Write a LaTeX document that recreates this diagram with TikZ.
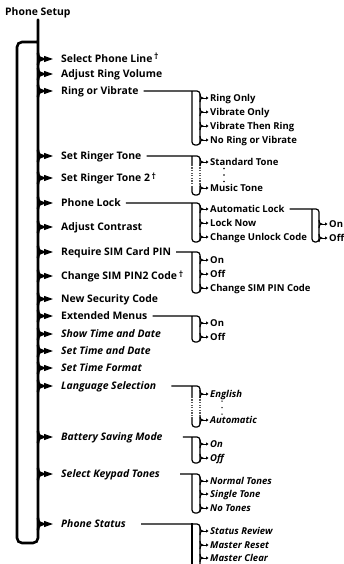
\documentclass[tikz,border=0pt]{standalone}
\usepackage{fontspec}
\setmainfont{Open Sans}
\usepackage{tikz}
\usetikzlibrary{arrows.meta,positioning,calc}

\newcommand{\daggermark}{\,\raisebox{2.6pt}{\fontsize{8.5}{9}\selectfont †}}

\begin{document}
\begin{tikzpicture}[x=1pt, y=-1pt,
  mainitem/.style={anchor=west, inner sep=0pt, text height=7.2pt, text depth=0pt, font=\fontsize{10.4}{12}\selectfont\bfseries},
  mainital/.style={mainitem, font=\fontsize{10.4}{12}\selectfont\bfseries\itshape},
  subitem/.style={anchor=west, inner sep=0pt, text height=6.6pt, text depth=0pt, font=\fontsize{9.5}{11}\selectfont\bfseries},
  subital/.style={subitem, font=\fontsize{9.5}{11}\selectfont\bfseries\itshape},
  mainline/.style={line width=2.6pt, line cap=round},
  subline/.style={line width=1.2pt},
  gapline/.style={line width=1.6pt, white, dash pattern=on 1.3pt off 1.3pt}]
  \useasboundingbox (0,0) rectangle (343,564);

  % x positions of the spines
  \coordinate (mainx) at (38,0);
  \coordinate (loopx) at (17,0);
  \coordinate (subx) at (200,0);
  \coordinate (subl) at (192,0);
  \coordinate (lockx) at (319,0);
  \coordinate (lockl) at (312,0);

  \node[mainitem] (title) at (5,12) {Phone Setup};

  % main menu
  \node[mainitem] (selph) at (61,59) {Select Phone Line\daggermark};
  \node[mainitem] (adjring) at (61,74) {Adjust Ring Volume};
  \node[mainitem] (ringvib) at (61,91) {Ring or Vibrate};
  \node[mainitem] (ringer) at (61,156) {Set Ringer Tone};
  \node[mainitem] (ringer2) at (61,178) {Set Ringer Tone 2\daggermark};
  \node[mainitem] (lock) at (61,203) {Phone Lock};
  \node[mainitem] (contrast) at (61,227) {Adjust Contrast};
  \node[mainitem] (simpin) at (61,252) {Require SIM Card PIN};
  \node[mainitem] (pin2) at (61,276) {Change SIM PIN2 Code\daggermark};
  \node[mainitem] (security) at (61,299) {New Security Code};
  \node[mainitem] (extmenu) at (61,316) {Extended Menus};
  \node[mainital] (showtime) at (61,334) {Show Time and Date};
  \node[mainital] (settime) at (61,351) {Set Time and Date};
  \node[mainital] (timefmt) at (61,368) {Set Time Format};
  \node[mainital] (language) at (61,386) {Language Selection};
  \node[mainital] (battery) at (61,437) {Battery Saving Mode};
  \node[mainital] (keytones) at (61,474) {Select Keypad Tones};
  \node[mainital] (status) at (61,524) {Phone Status};

  % sub menus
  \node[subitem] (ronly) at (210,98) {Ring Only};
  \node[subitem] (vonly) at (210,112) {Vibrate Only};
  \node[subitem] (vthen) at (210,126) {Vibrate Then Ring};
  \node[subitem] (noring) at (210,140) {No Ring or Vibrate};

  \node[subitem] (stdtone) at (210,162) {Standard Tone};
  \coordinate (tonedots) at (224,168.5);
  \node[subitem] (musictone) at (210,188) {Music Tone};

  \node[subitem] (autolock) at (210,209) {Automatic Lock};
  \node[subitem] (locknow) at (210,223) {Lock Now};
  \node[subitem] (unlock) at (210,237) {Change Unlock Code};
  \node[subitem] (lockon) at (329,224) {On};
  \node[subitem] (lockoff) at (329,238) {Off};

  \node[subitem] (simon) at (210,260) {On};
  \node[subitem] (simoff) at (210,274) {Off};
  \node[subitem] (simchange) at (210,288) {Change SIM PIN Code};

  \node[subitem] (exton) at (210,323) {On};
  \node[subitem] (extoff) at (210,337) {Off};

  \node[subital] (english) at (210,394) {English};
  \coordinate (langdots) at (222,401);
  \node[subital] (automatic) at (210,420) {Automatic};

  \node[subital] (baton) at (210,444) {On};
  \node[subital] (batoff) at (210,458) {Off};

  \node[subital] (normaltones) at (210,481) {Normal Tones};
  \node[subital] (singletone) at (210,494) {Single Tone};
  \node[subital] (notones) at (210,508) {No Tones};

  \node[subital] (streview) at (210,531) {Status Review};
  \node[subital] (mreset) at (210,545) {Master Reset};
  \node[subital] (mclear) at (210,558) {Master Clear};

  % vertical dots between first and last tone / language
  \foreach \d in {0,6.5,13} {
    \fill (tonedots) ++(0,\d) circle (0.95pt);
    \fill (langdots) ++(0,\d) circle (0.75pt);
  }

  % main spine and loop
  \draw[mainline, rounded corners=5pt] ($(title.south -| mainx)+(0,4)$) -- ($(status.west -| mainx)+(0,19)$)
    -- ($(status.west -| loopx)+(0,19)$) -- ($(selph.west -| loopx)+(0,-17)$) -- ($(selph.west -| mainx)+(0,-17)$);
  \foreach \m in {selph,adjring,ringvib,ringer,ringer2,lock,contrast,simpin,pin2,security,
                  extmenu,showtime,settime,timefmt,language,battery,keytones,status} {
    \draw[mainline] ($(\m.west -| mainx)+(0,-6)$) .. controls +(0,4) and +(-3,0) .. ($(\m.west -| mainx)+(5,0)$)
      .. controls +(-3,0) and +(0,-4) .. ($(\m.west -| mainx)+(0,6)$);
    \draw[line width=1pt, -{Triangle[length=9pt,width=6pt]}] ($(\m.west -| mainx)+(4,0)$) -- ([xshift=-8pt]\m.west);
  }

  % brackets of the sub menus
  \draw[subline, rounded corners=3pt] ([xshift=5pt]ringvib.east) -- (ringvib.east -| subx)
    -- ($(noring.west -| subx)+(0,5)$) -- ($(noring.west -| subl)+(0,5)$) -- (ringvib.east -| subl);
  \draw[subline, rounded corners=3pt] ([xshift=5pt]ringer.east) -- (ringer.east -| subx)
    -- ($(musictone.west -| subx)+(0,7)$) -- ($(musictone.west -| subl)+(0,7)$) -- (ringer.east -| subl);
  \draw[gapline] ($(ringer.east -| subx)+(0,10)$) -- ($(musictone.west -| subx)+(0,-2)$);
  \draw[gapline] ($(ringer.east -| subl)+(0,10)$) -- ($(musictone.west -| subl)+(0,-2)$);
  \draw[subline, rounded corners=3pt] ([xshift=5pt]lock.east) -- (lock.east -| subx)
    -- ($(unlock.west -| subx)+(0,5)$) -- ($(unlock.west -| subl)+(0,5)$) -- (lock.east -| subl);
  \draw[subline, rounded corners=3pt] ([xshift=5pt]autolock.east) -- (autolock.east -| lockx)
    -- ($(lockoff.west -| lockx)+(0,4)$) -- ($(lockoff.west -| lockl)+(0,4)$) -- (autolock.east -| lockl);
  \draw[subline, rounded corners=3pt] ([xshift=5pt]simpin.east) -- (simpin.east -| subx)
    -- ($(simchange.west -| subx)+(0,5)$) -- ($(simchange.west -| subl)+(0,5)$) -- (simpin.east -| subl);
  \draw[subline, rounded corners=3pt] ([xshift=5pt]extmenu.east) -- (extmenu.east -| subx)
    -- ($(extoff.west -| subx)+(0,5)$) -- ($(extoff.west -| subl)+(0,5)$) -- (extmenu.east -| subl);
  \draw[subline, rounded corners=3pt] ([xshift=15pt]language.east) -- (language.east -| subx)
    -- ($(automatic.west -| subx)+(0,7)$) -- ($(automatic.west -| subl)+(0,7)$) -- (language.east -| subl);
  \draw[gapline] ($(language.east -| subx)+(0,12)$) -- ($(automatic.west -| subx)+(0,-3)$);
  \draw[gapline] ($(language.east -| subl)+(0,12)$) -- ($(automatic.west -| subl)+(0,-3)$);
  \draw[subline, rounded corners=3pt] ([xshift=20pt]battery.east) -- (battery.east -| subx)
    -- ($(batoff.west -| subx)+(0,5)$) -- ($(batoff.west -| subl)+(0,5)$) -- (battery.east -| subl);
  \draw[subline, rounded corners=3pt] ([xshift=20pt]keytones.east) -- (keytones.east -| subx)
    -- ($(notones.west -| subx)+(0,5)$) -- ($(notones.west -| subl)+(0,5)$) -- (keytones.east -| subl);
  \draw[subline, rounded corners=3pt] ([xshift=15pt]status.east) -- (status.east -| subx)
    -- ($(mclear.west -| subx)+(0,12)$);
  \draw[subline] ($(mclear.west -| subl)+(0,12)$) -- ($(status.east -| subl)+(0,-0.6)$);

  % ticks of the sub menus
  \foreach \s in {ronly,vonly,vthen,noring,stdtone,musictone,autolock,locknow,unlock,simon,simoff,simchange,
                  exton,extoff,english,automatic,baton,batoff,normaltones,singletone,notones,streview,mreset,mclear} {
    \draw[subline] ($(\s.west -| subx)+(0,-4)$) .. controls +(0,2.5) and +(-2,0) .. ($(\s.west -| subx)+(2.5,0)$)
      .. controls +(-2,0) and +(0,-2.5) .. ($(\s.west -| subx)+(0,4)$);
    \draw[line width=0.8pt, -{Triangle[length=2.5pt,width=3pt]}] ($(\s.west -| subx)+(2,0)$) -- ([xshift=-1.5pt]\s.west);
  }
  \foreach \s in {lockon,lockoff} {
    \draw[subline] ($(\s.west -| lockx)+(0,-4)$) .. controls +(0,2.5) and +(-2,0) .. ($(\s.west -| lockx)+(2.5,0)$)
      .. controls +(-2,0) and +(0,-2.5) .. ($(\s.west -| lockx)+(0,4)$);
    \draw[line width=0.8pt, -{Triangle[length=2.5pt,width=3pt]}] ($(\s.west -| lockx)+(2,0)$) -- ([xshift=-1.5pt]\s.west);
  }
\end{tikzpicture}
\end{document}
